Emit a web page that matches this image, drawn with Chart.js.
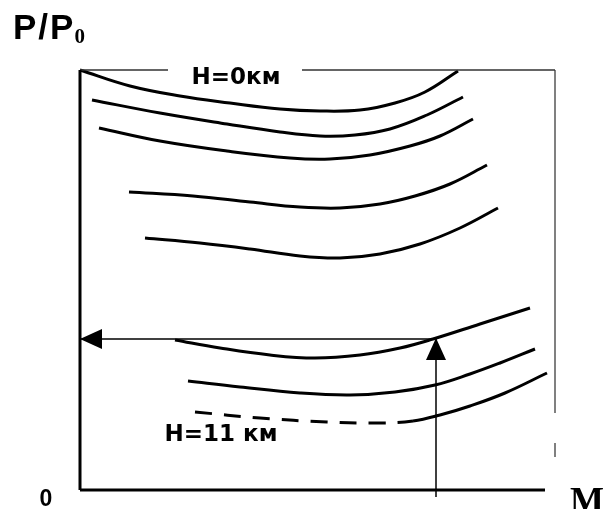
<!DOCTYPE html>
<html>
<head>
<meta charset="utf-8">
<script src="https://cdn.jsdelivr.net/npm/chart.js@4/dist/chart.umd.min.js"></script>
<style>
  html, body { margin: 0; padding: 0; background: #fff; }
  #wrap { width: 608px; height: 509px; position: relative; }
</style>
</head>
<body>
<div id="wrap"><canvas id="chart"></canvas></div>
<script>
// Кривые P/P0 от M (схема, относительные единицы)
const m1 = [0, 0.5, 1.0, 1.5, 2.0, 2.4, 2.8, 3.15, 3.45, 3.78];
const p1 = [4.2, 4.04, 3.94, 3.87, 3.81, 3.79, 3.8, 3.87, 3.98, 4.19];
const m2 = [0.12, 0.8, 1.47, 2.0, 2.4, 2.75, 3.1, 3.47, 3.83];
const p2 = [3.9, 3.77, 3.66, 3.58, 3.54, 3.55, 3.61, 3.75, 3.93];
const m3 = [0.19, 0.8, 1.47, 2.1, 2.5, 2.9, 3.3, 3.6, 3.93];
const p3 = [3.62, 3.49, 3.39, 3.32, 3.31, 3.35, 3.44, 3.54, 3.71];
const m4 = [0.49, 1.13, 1.7, 2.2, 2.6, 3.0, 3.35, 3.7, 4.07];
const p4 = [2.98, 2.94, 2.88, 2.83, 2.82, 2.86, 2.94, 3.06, 3.25];
const m5 = [0.65, 1.2, 1.7, 2.2, 2.6, 3.0, 3.4, 3.8, 4.18];
const p5 = [2.52, 2.47, 2.41, 2.34, 2.32, 2.36, 2.46, 2.62, 2.82];
const m6 = [0.95, 1.4, 1.9, 2.35, 2.8, 3.2, 3.53, 4.0, 4.5];
const p6 = [1.5, 1.42, 1.35, 1.32, 1.35, 1.42, 1.51, 1.66, 1.82];
const m7 = [1.08, 1.6, 2.2, 2.7, 3.15, 3.55, 3.9, 4.2, 4.55];
const p7 = [1.09, 1.03, 0.97, 0.95, 0.98, 1.05, 1.16, 1.27, 1.41];
// H = 11 км, штриховая часть до индекса 4
const m11 = [1.15, 1.8, 2.47, 3.0, 3.33, 3.6, 3.9, 4.25, 4.67];
const p11 = [0.78, 0.72, 0.68, 0.67, 0.69, 0.75, 0.84, 0.97, 1.17];
const dashedUntil = 4;

// Стрелки: от кривой к оси P/P0 и от оси M вверх
const arrowM = [3.53, 0];
const arrowP = [1.51, 1.51];
const arrowUpM = [3.56, 3.56];
const arrowUpP = [-0.07, 1.52];

const xMax = 4.75, yMax = 4.2;

function pts(xs, ys) {
    return xs.map((x, i) => ({ x: x, y: ys[i] }));
}

function curve(xs, ys) {
    return {
        data: pts(xs, ys), borderColor: '#000', borderWidth: 3,
        pointRadius: 0, tension: 0.4, clip: false, showLine: true
    };
}

function frameLine(data, color, width) {
    return {
        data: data, borderColor: color, borderWidth: width,
        pointRadius: 0, tension: 0, clip: false, showLine: true, spanGaps: false
    };
}

const datasets = [
    // рамка
    frameLine([{ x: 0, y: 0 }, { x: 0, y: yMax }], '#000', 3),
    frameLine([{ x: 0, y: 0 }, { x: 4.65, y: 0 }], '#000', 3),
    frameLine([{ x: 0, y: yMax }, { x: 0.88, y: yMax }, { x: 1.5, y: null }, { x: 2.22, y: yMax }, { x: xMax, y: yMax }], '#333', 1.5),
    frameLine([{ x: xMax, y: yMax }, { x: xMax, y: 0.77 }, { x: xMax, y: null }, { x: xMax, y: 0.47 }, { x: xMax, y: 0.33 }], '#808080', 2),
    curve(m1, p1), curve(m2, p2), curve(m3, p3), curve(m4, p4),
    curve(m5, p5), curve(m6, p6), curve(m7, p7),
    Object.assign(curve(m11, p11), {
        segment: { borderDash: ctx => ctx.p1DataIndex <= dashedUntil ? [17, 12] : undefined }
    }),
    Object.assign(frameLine(pts(arrowM, arrowP), '#000', 1.5), { arrow: true }),
    Object.assign(frameLine(pts(arrowUpM, arrowUpP), '#000', 1.5), { arrow: true })
];

// подписи (в координатах данных)
const notes = [
    { text: 'H=0км', x: 1.56, y: 4.12, font: 'bold 23px "DejaVu Sans"', align: 'center' },
    { text: 'H=11 км', x: 1.41, y: 0.55, font: 'bold 23px "DejaVu Sans"', align: 'center' },
    { text: '0', x: -0.34, y: -0.1, font: 'bold 23px "Liberation Sans"', align: 'center' }
];

const arrowHeads = {
    id: 'arrowHeads',
    afterDatasetsDraw(chart) {
        const ctx = chart.ctx;
        chart.data.datasets.forEach((ds, i) => {
            if (!ds.arrow) return;
            const el = chart.getDatasetMeta(i).data;
            const a = el[el.length - 2], b = el[el.length - 1];
            const ang = Math.atan2(b.y - a.y, b.x - a.x);
            const len = 22, half = 10;
            ctx.save();
            ctx.translate(b.x, b.y);
            ctx.rotate(ang);
            ctx.beginPath();
            ctx.moveTo(0, 0);
            ctx.lineTo(-len, -half);
            ctx.lineTo(-len, half);
            ctx.closePath();
            ctx.fillStyle = '#000';
            ctx.fill();
            ctx.restore();
        });
    }
};

const labels = {
    id: 'labels',
    afterDraw(chart) {
        const ctx = chart.ctx;
        const sx = chart.scales.x, sy = chart.scales.y;
        ctx.save();
        ctx.fillStyle = '#000';
        ctx.textBaseline = 'middle';
        notes.forEach(n => {
            ctx.font = n.font;
            ctx.textAlign = n.align;
            ctx.fillText(n.text, sx.getPixelForValue(n.x), sy.getPixelForValue(n.y));
        });
        // заголовок оси Y: P/P0
        ctx.textAlign = 'left';
        ctx.textBaseline = 'alphabetic';
        ctx.font = 'bold 35px "Liberation Sans"';
        ctx.letterSpacing = '2px';
        const left = sx.left - 67, base = sy.top - 31;
        ctx.fillText('P/P', left, base);
        const w = ctx.measureText('P/P').width;
        ctx.letterSpacing = '0px';
        ctx.font = 'bold 21px "Liberation Serif"';
        ctx.fillText('0', left + w - 1, base + 4);
        // подпись оси X: M
        ctx.font = 'bold 36px "Liberation Serif"';
        ctx.fillText('M', sx.right + 15, sy.bottom + 22);
        ctx.restore();
    }
};

new Chart(document.getElementById('chart'), {
    type: 'scatter',
    data: { datasets: datasets },
    options: {
        responsive: true,
        maintainAspectRatio: false,
        animation: false,
        layout: { padding: { left: 80, right: 53, top: 70, bottom: 19 } },
        plugins: { legend: { display: false }, tooltip: { enabled: false } },
        scales: {
            x: { type: 'linear', min: 0, max: xMax, display: false },
            y: { type: 'linear', min: 0, max: yMax, display: false }
        }
    },
    plugins: [arrowHeads, labels]
});
</script>
</body>
</html>
